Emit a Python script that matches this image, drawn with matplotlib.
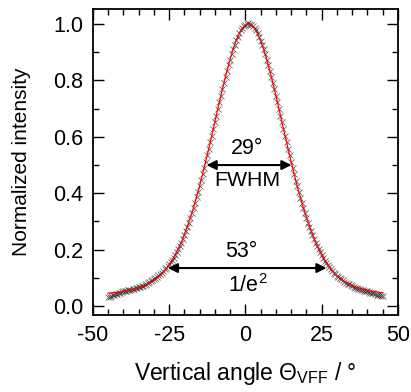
import numpy as np
import matplotlib
matplotlib.use("Agg")
import matplotlib.pyplot as plt

plt.rcParams['font.family'] = ['Liberation Sans', 'DejaVu Sans']
plt.rcParams['axes.unicode_minus'] = False
plt.rcParams['mathtext.fontset'] = 'custom'
plt.rcParams['mathtext.rm'] = 'Liberation Sans'

# Measured far-field profile, vertical angle -45..45 deg in 0.5 deg steps
angle = np.arange(-45, 45.01, 0.5)
intensity = [
    0.032, 0.034, 0.036, 0.038, 0.040, 0.042, 0.044, 0.046, 0.048, 0.050,
    0.052, 0.053, 0.055, 0.056, 0.057, 0.058, 0.060, 0.061, 0.063, 0.065,
    0.067, 0.069, 0.071, 0.073, 0.076, 0.079, 0.082, 0.085, 0.089, 0.093,
    0.097, 0.101, 0.105, 0.109, 0.114, 0.119, 0.124, 0.130, 0.135, 0.141,
    0.148, 0.155, 0.163, 0.172, 0.181, 0.191, 0.202, 0.213, 0.225, 0.238,
    0.252, 0.266, 0.281, 0.296, 0.313, 0.330, 0.348, 0.367, 0.386, 0.405,
    0.425, 0.446, 0.468, 0.489, 0.512, 0.534, 0.557, 0.580, 0.604, 0.628,
    0.651, 0.675, 0.699, 0.722, 0.746, 0.768, 0.791, 0.813, 0.834, 0.854,
    0.874, 0.893, 0.910, 0.927, 0.942, 0.955, 0.967, 0.977, 0.986, 0.992,
    0.997, 1.001, 1.003, 1.001, 0.998, 0.992, 0.986, 0.977, 0.967, 0.955,
    0.941, 0.926, 0.910, 0.892, 0.874, 0.854, 0.834, 0.813, 0.791, 0.768,
    0.746, 0.722, 0.699, 0.675, 0.651, 0.628, 0.604, 0.580, 0.557, 0.534,
    0.511, 0.488, 0.467, 0.445, 0.424, 0.404, 0.385, 0.366, 0.347, 0.330,
    0.313, 0.296, 0.281, 0.266, 0.252, 0.238, 0.225, 0.213, 0.202, 0.191,
    0.180, 0.171, 0.161, 0.153, 0.145, 0.138, 0.131, 0.125, 0.119, 0.113,
    0.108, 0.103, 0.099, 0.095, 0.091, 0.087, 0.083, 0.080, 0.077, 0.074,
    0.071, 0.068, 0.066, 0.064, 0.062, 0.060, 0.058, 0.056, 0.055, 0.053,
    0.052, 0.050, 0.048, 0.047, 0.045, 0.043, 0.041, 0.040, 0.038, 0.036,
    0.035,
]

# Fitted curve (red), 1 deg steps
fit_angle = np.arange(-45, 46, 1)
fit = [
    0.046, 0.047, 0.048, 0.049, 0.051, 0.052, 0.054, 0.056, 0.059, 0.061,
    0.065, 0.068, 0.073, 0.078, 0.084, 0.091, 0.099, 0.108, 0.119, 0.132,
    0.147, 0.163, 0.182, 0.204, 0.227, 0.254, 0.283, 0.315, 0.349, 0.387,
    0.426, 0.469, 0.5125, 0.558, 0.605, 0.652, 0.700, 0.747, 0.792, 0.835,
    0.875, 0.911, 0.942, 0.966, 0.985, 0.996, 1.000, 0.996, 0.985, 0.966,
    0.942, 0.911, 0.875, 0.835, 0.792, 0.747, 0.700, 0.652, 0.605, 0.558,
    0.5125, 0.469, 0.426, 0.387, 0.349, 0.315, 0.283, 0.254, 0.227, 0.204,
    0.182, 0.163, 0.147, 0.132, 0.119, 0.108, 0.099, 0.091, 0.084, 0.078,
    0.073, 0.068, 0.065, 0.061, 0.059, 0.056, 0.054, 0.052, 0.051, 0.049,
    0.048,
]

# width markers
fwhm_left, fwhm_right, fwhm_level = -12.7, 15.1, 0.5
e2_left, e2_right, e2_level = -25.4, 26.6, 0.135

fig = plt.figure(figsize=(4.11, 3.92), dpi=100)
ax = fig.add_axes([0.226, 0.196, 0.742, 0.781])

ax.plot(angle, intensity, 'x', color='#222222', ms=4, mew=0.6, alpha=0.7)
ax.plot(fit_angle, fit, '-', color='red', lw=0.9)

arrow = dict(arrowstyle='<|-|>', color='black', lw=1.5,
             mutation_scale=14, shrinkA=0, shrinkB=0)
ax.annotate('', xy=(fwhm_left, fwhm_level), xytext=(fwhm_right, fwhm_level),
            arrowprops=arrow)
ax.annotate('', xy=(e2_left, e2_level), xytext=(e2_right, e2_level),
            arrowprops=arrow)
ax.text(0.5, 0.56, '29°', ha='center', va='center', fontsize=15.5)
ax.text(0.7, 0.445, 'FWHM', ha='center', va='center', fontsize=15.3)
ax.text(-1.2, 0.193, '53°', ha='center', va='center', fontsize=15.5)
ax.text(0.8, 0.072, '1/e$^{\\mathregular{2}}$', ha='center', va='center', fontsize=15.5)

ax.set_xlim(-50, 50)
ax.set_ylim(-0.032, 1.053)
ax.set_xticks([-50, -25, 0, 25, 50])
ax.set_xticks(np.arange(-50, 51, 5), minor=True)
ax.set_yticks([0.0, 0.2, 0.4, 0.6, 0.8, 1.0])
ax.set_yticks(np.arange(0.0, 1.01, 0.1), minor=True)
ax.set_yticklabels(['0.0', '0.2', '0.4', '0.6', '0.8', '1.0'])

ax.tick_params(which='both', direction='in', top=True, right=True,
               labelsize=15.5, width=1.0)
ax.tick_params(which='major', length=8, pad=7)
ax.tick_params(which='minor', length=4)
for s in ax.spines.values():
    s.set_linewidth(1.3)

ax.set_xlabel('Vertical angle Θ$_{\\mathregular{VFF}}$ / °', fontsize=16.5, labelpad=10)
ax.set_ylabel('Normalized intensity', fontsize=15, labelpad=16)

fig.savefig('out.png', dpi=100)
